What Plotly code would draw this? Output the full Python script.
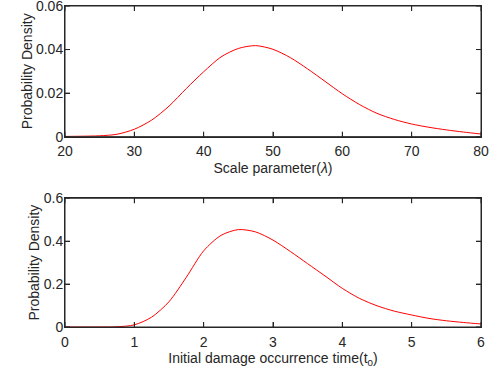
import plotly.graph_objects as go
from plotly.subplots import make_subplots

# Top panel: scale parameter lambda
lam_x = [20, 22.5, 25, 27.5, 30, 32.5, 35, 37.5, 40, 42.5, 45, 47.5, 50,
         52.5, 55, 57.5, 60, 62.5, 65, 67.5, 70, 72.5, 75, 77.5, 80]
lam_pdf = [0.0001, 0.0002, 0.0004, 0.0011, 0.0034, 0.0076, 0.0140, 0.0221,
           0.0298, 0.0366, 0.0405, 0.0418, 0.0401, 0.0363, 0.0311, 0.0254,
           0.0197, 0.0147, 0.0107, 0.0079, 0.0058, 0.0043, 0.0031, 0.0021,
           0.0012]

# Bottom panel: initial damage occurrence time t0
t0_x = [0, 0.25, 0.5, 0.75, 1.0, 1.25, 1.5, 1.75, 2.0, 2.25, 2.5, 2.75, 3.0,
        3.25, 3.5, 3.75, 4.0, 4.25, 4.5, 4.75, 5.0, 5.25, 5.5, 5.75, 6.0]
t0_pdf = [0, 0, 0, 0.001, 0.010, 0.046, 0.118, 0.232, 0.355, 0.427, 0.454,
          0.443, 0.405, 0.352, 0.295, 0.238, 0.180, 0.133, 0.099, 0.074,
          0.056, 0.040, 0.029, 0.021, 0.014]

top_xticks = [20, 30, 40, 50, 60, 70, 80]
top_yticks = [0, 0.02, 0.04, 0.06]
top_ytext = ["0", "0.02", "0.04", "0.06"]
bot_xticks = [0, 1, 2, 3, 4, 5, 6]
bot_yticks = [0, 0.2, 0.4, 0.6]
bot_ytext = ["0", "0.2", "0.4", "0.6"]

FONT = "Liberation Sans, Arial, sans-serif"
DARK = "#262626"
TICK = 5

fig = make_subplots(rows=2, cols=1)
fig.add_trace(go.Scatter(x=lam_x, y=lam_pdf, mode="lines", cliponaxis=False,
                         line=dict(color="#ff0000", width=1, shape="spline", smoothing=0.8)),
              row=1, col=1)
fig.add_trace(go.Scatter(x=t0_x, y=t0_pdf, mode="lines", cliponaxis=False,
                         line=dict(color="#ff0000", width=1, shape="spline", smoothing=0.8)),
              row=2, col=1)

axis_common = dict(showline=True, linecolor=DARK, linewidth=1, mirror="ticks",
                   ticks="inside", ticklen=TICK, tickcolor=DARK, tickwidth=1,
                   showgrid=False, zeroline=False, automargin=False,
                   ticklabeloverflow="allow",
                   tickfont=dict(family=FONT, size=14, color=DARK))
title_font = dict(family=FONT, size=14, color=DARK)

fig.update_layout(
    template="none",
    width=497, height=379,
    margin=dict(l=65, r=16, t=6, b=52),
    paper_bgcolor="white", plot_bgcolor="white",
    showlegend=False,
    xaxis=dict(domain=[0, 1], range=[20, 80], tickvals=top_xticks, ticklabelstandoff=2,
               title=dict(text="Scale parameter(<i>λ</i>)", font=title_font, standoff=4),
               **axis_common),
    yaxis=dict(domain=[0.593, 1], range=[0, 0.06], tickvals=top_yticks, ticktext=top_ytext,
               ticklabelstandoff=-2,
               title=dict(text="Probability Density", font=title_font, standoff=0),
               **axis_common),
    xaxis2=dict(domain=[0, 1], range=[0, 6], tickvals=bot_xticks, ticklabelstandoff=2,
                title=dict(text="Initial damage occurrence time(t<sub>0</sub>)", font=title_font, standoff=4),
                **axis_common),
    yaxis2=dict(domain=[0, 0.401], range=[0, 0.6], tickvals=bot_yticks, ticktext=bot_ytext,
                ticklabelstandoff=-2,
                title=dict(text="Probability Density", font=title_font, standoff=0),
                **axis_common),
)

tick_line = dict(color=DARK, width=1)
panels = [("x", "y", top_xticks, top_yticks), ("x2", "y2", bot_xticks, bot_yticks)]
for xa, ya, xt, yt in panels:
    # box around each panel
    fig.add_shape(type="rect", xref=xa + " domain", yref=ya + " domain",
                  x0=0, x1=1, y0=0, y1=1, line=tick_line,
                  fillcolor="rgba(0,0,0,0)", layer="above")
    # inward tick marks on bottom and top edges
    for v in xt:
        for anchor, length in ((0, TICK), (1, -TICK)):
            fig.add_shape(type="line", xref=xa, yref=ya + " domain",
                          x0=v, x1=v, ysizemode="pixel", yanchor=anchor,
                          y0=0, y1=length, line=tick_line, layer="above")
    # inward tick marks on left and right edges
    for v in yt:
        for anchor, length in ((0, TICK), (1, -TICK)):
            fig.add_shape(type="line", xref=xa + " domain", yref=ya,
                          y0=v, y1=v, xsizemode="pixel", xanchor=anchor,
                          x0=0, x1=length, line=tick_line, layer="above")

fig.write_html("out.html", config={"displayModeBar": False},
               post_script="document.body.style.margin='0';")
